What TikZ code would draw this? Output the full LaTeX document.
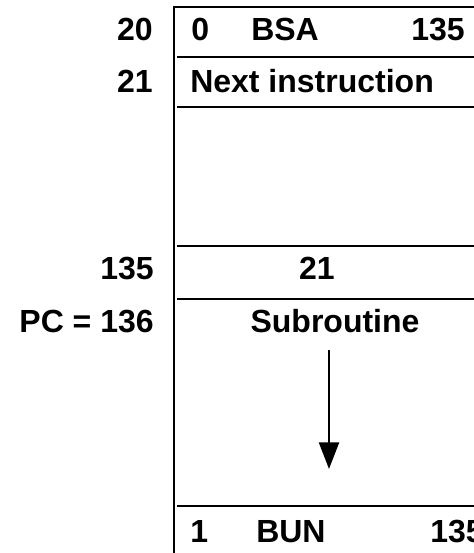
\documentclass[tikz,border=0pt]{standalone}
\usepackage{fontspec}
\setmainfont{Liberation Sans}
\usetikzlibrary{arrows.meta}
\begin{document}
\begin{tikzpicture}[x=0.75pt,y=-0.75pt,
  txt/.style={inner sep=0pt,font=\fontsize{24pt}{28pt}\selectfont\bfseries},
  lbl/.style={txt,anchor=base east},
  cell/.style={txt,anchor=base west},
  mid/.style={txt,anchor=base},
  rule/.style={line width=2pt},
  flow/.style={line width=1.7pt,-{Triangle[width=15pt,length=20pt]}}]
\useasboundingbox (0,0) rectangle (474,553);
% frame
\draw[rule] (474,7) -- (174,7) -- (174,553);
\foreach \y in {57,107,246,299,506} \draw[rule] (177,\y) -- (474,\y);
% left labels
\node[lbl] (a20) at (153,40) {20};
\node[lbl] (a21) at (153,92) {21};
\node[lbl] (a135) at (154,279) {135};
\node[lbl] (pc) at (154,332) {PC = 136};
% contents
\node[cell] (w0) at (191,40) {0};
\node[cell] (bsa) at (251,40) {BSA};
\node[txt,anchor=base east] (t135) at (465,40) {135};
\node[cell] (next) at (190,92) {Next instruction};
\node[mid] (ret) at (317,279) {21};
\node[mid] (sub) at (335,332) {Subroutine};
\node[cell] (w1) at (190,542) {1};
\node[cell] (bun) at (256,542) {BUN};
\node[cell] (b135) at (430,542) {135};
% arrow
\coordinate (s) at (329,350);
\coordinate (e) at (329,469);
\draw[flow] (s) -- (e);
\end{tikzpicture}
\end{document}
